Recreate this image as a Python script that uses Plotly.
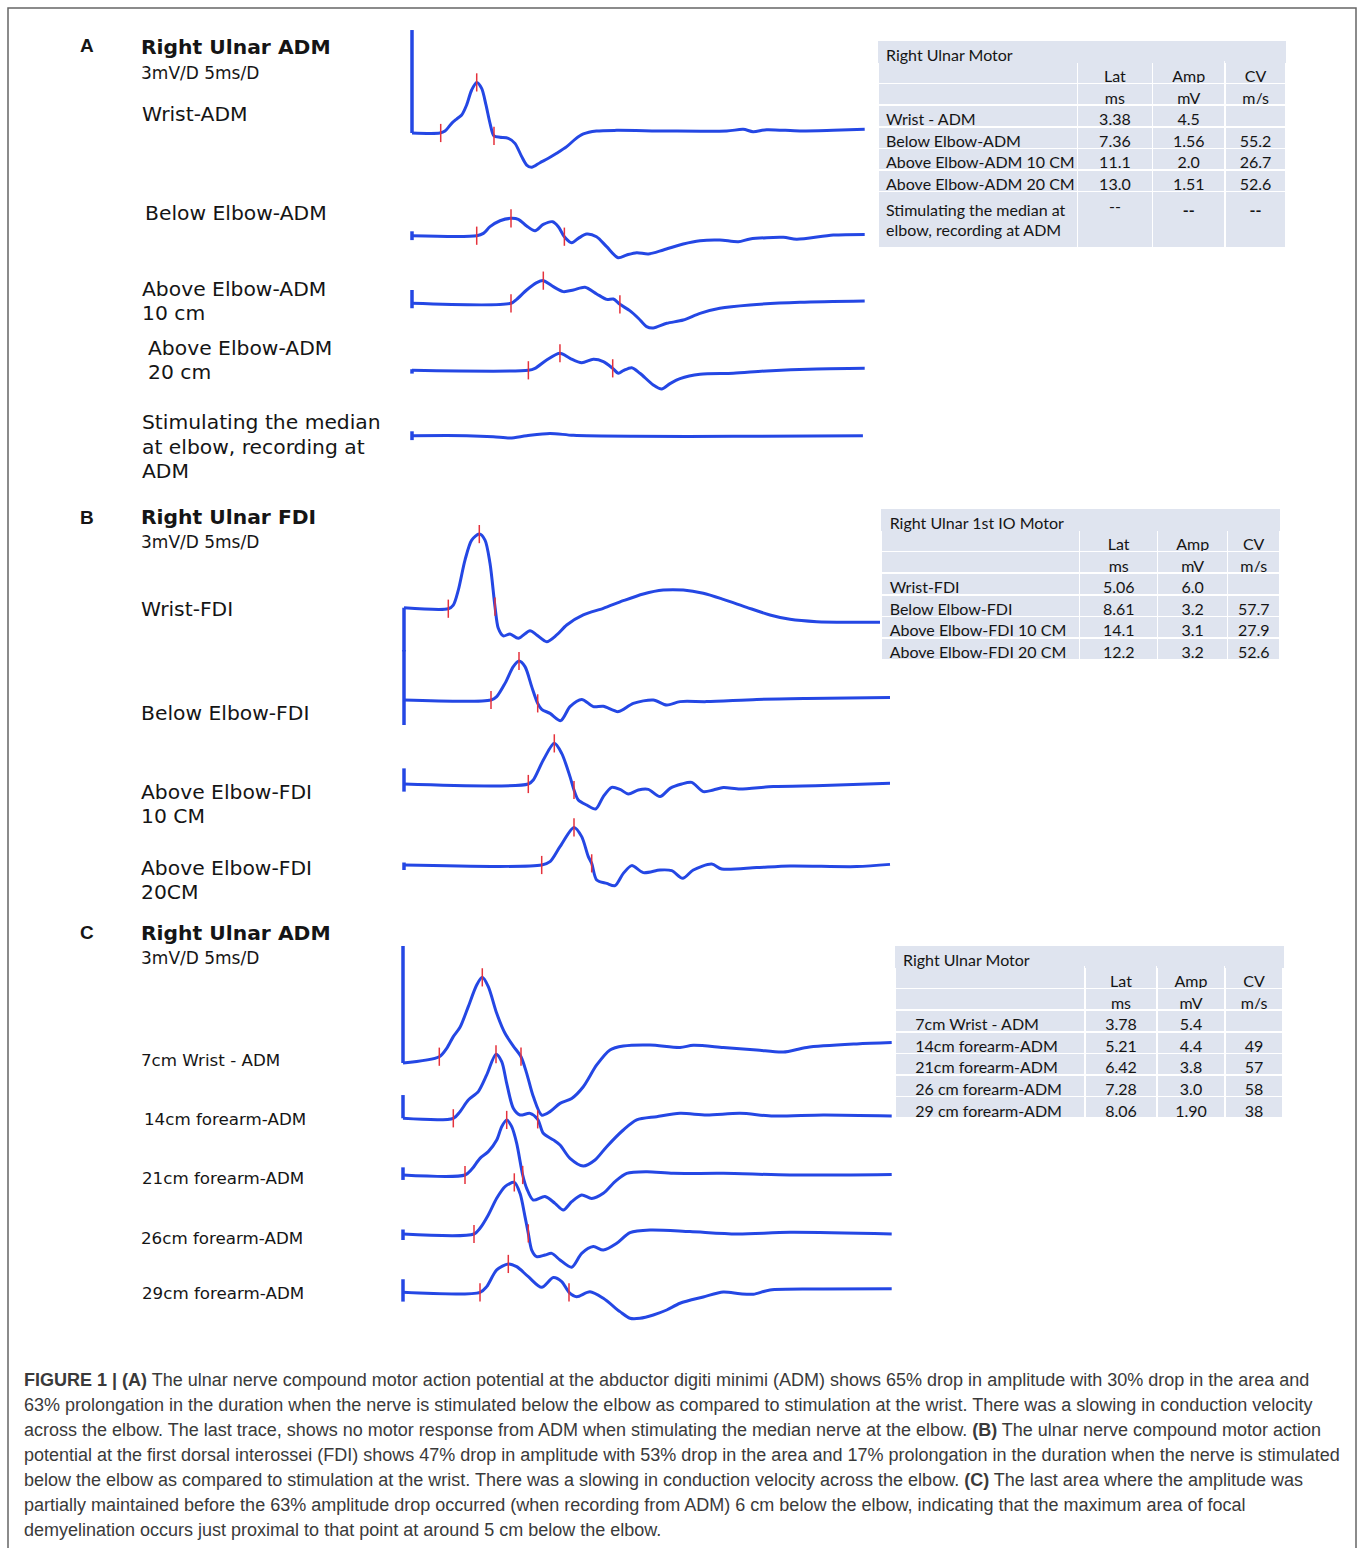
import plotly.graph_objects as go

W, H = 1360, 1548
OFF = 0  # page body margin is removed in post_script, so paper pixels == screenshot pixels


def fx(px):
    return (px - OFF) / W


def fy(py):
    return 1 - (py - OFF) / H


BLUE = "#2447e4"
RED = "#e5323c"
TXT = "#151515"
TABLE_FILL = "#dfe4ef"

# ---------------- Panel A : Right Ulnar ADM (time in ms, amplitude in mV) ----------------
a1_t = [0, 3.1, 3.67, 4.41, 4.96, 5.52, 6.07, 6.63, 7.19, 7.74, 8.22, 8.67, 9.11, 9.78, 10.7, 11.44,
        12.19, 12.74, 13.3, 14.22, 15.15, 16.07, 17.19, 18.11, 19.04, 20.5, 22.74, 28.3, 34.97, 36.8,
        37.9, 39.4, 43.1, 46.8, 50.3]
a1_mv = [0, 0, 0.18, 0.88, 1.27, 1.64, 2.55, 3.91, 4.6, 4.06, 2.55, 0.88, -0.27, -0.39, -0.48, -0.94,
         -2.15, -2.91, -3.12, -2.7, -2.3, -1.85, -1.24, -0.58, -0.09, 0.18, 0.24, 0.18, 0.18, 0.33,
         0.12, 0.3, 0.18, 0.24, 0.33]
a1_mk_t = [3.19, 7.19, 9.11]
a1_mk_mv = [0, 4.6, -0.27]

a2_t = [0, 7.19, 7.93, 8.67, 9.78, 11.0, 11.81, 12.74, 13.67, 14.59, 15.63, 16.26, 16.93, 17.74, 18.48,
        19.41, 20.5, 21.63, 22.9, 23.86, 24.97, 26.26, 27.93, 30.14, 32.0, 34.2, 36.26, 37.56, 41.26,
        42.74, 46.81, 50.3]
a2_mv = [0, 0, 0.21, 0.82, 1.36, 1.58, 1.49, 0.88, 0.45, 1.03, 1.27, 0.82, -0.09, -0.64, -0.24,
         0.15, -0.09, -1.0, -2.0, -1.75, -1.54, -1.66, -1.3, -0.75, -0.45, -0.39, -0.55, -0.3, -0.15,
         -0.33, 0.06, 0.12]
a2_mk_t = [7.19, 11.0, 16.93]
a2_mk_mv = [0, 1.58, -0.09]

a3_t = [0, 11.0, 11.63, 12.74, 13.86, 14.59, 15.7, 16.81, 17.93, 19.22, 20.52, 21.63, 22.37, 23.1,
        24.2, 25.15, 26.07, 26.8, 28.3, 30.14, 32.0, 34.2, 37.56, 43.1, 50.3]
a3_mv = [0, 0, 0.36, 1.21, 1.88, 2.06, 1.51, 1.06, 1.21, 1.45, 0.85, 0.36, 0.39, -0.09, -0.67, -1.36,
         -2.12, -2.24, -1.82, -1.52, -0.91, -0.45, -0.15, 0.09, 0.21]
a3_mk_t = [11.0, 14.59, 23.1]
a3_mk_mv = [0, 2.06, -0.09]

a4_t = [0, 12.93, 13.67, 14.96, 16.44, 17.56, 18.85, 20.15, 21.26, 22.3, 22.93, 23.48, 24.41, 25.33,
        26.81, 27.74, 28.67, 29.78, 32.0, 35.7, 39.4, 44.96, 50.3]
a4_mv = [0, 0, 0.18, 0.94, 1.55, 1.09, 0.69, 1.0, 0.79, 0.18, -0.27, -0.03, 0.24, -0.27, -1.33, -1.7,
         -1.21, -0.76, -0.36, -0.27, -0.06, 0.12, 0.18]
a4_mk_t = [12.93, 16.44, 22.3]
a4_mk_mv = [0, 1.55, 0.18]

a5_t = [0, 6.07, 9.04, 10.9, 12.74, 15.33, 17.93, 24.6, 35.7, 50.1]
a5_mv = [0, 0, -0.09, -0.21, 0, 0.21, 0.03, -0.06, -0.06, 0]
a5_mk_t = []
a5_mk_mv = []

a_art_top = [9.36, 0.4, 1.21, 0.1, 0.4]
a_art_bot = [0, -0.4, -0.45, -0.3, -0.4]

# ---------------- Panel B : Right Ulnar FDI ----------------
b1_t = [0, 4.43, 4.93, 5.43, 6.1, 6.77, 7.53, 8.1, 8.6, 9.1, 9.43, 9.93, 10.6, 11.43, 12.6, 13.27,
        14.27, 15.27, 16.27, 17.93, 19.93, 21.93, 23.93, 25.93, 27.93, 29.93, 31.93, 34.27, 36.6, 38.6,
        41.27, 44.6, 47.6]
b1_mv = [0, -0.08, 0.21, 1.41, 3.81, 5.41, 5.89, 5.41, 3.55, 0.08, -1.65, -2.26, -2.1, -2.45, -1.84,
         -2.18, -2.72, -2.18, -1.38, -0.58, -0.05, 0.56, 1.1, 1.41, 1.41, 1.15, 0.67, 0.03, -0.58,
         -0.93, -1.12, -1.17, -1.17]
b1_mk_t = [4.43, 7.53, 9.1]
b1_mk_mv = [-0.08, 5.89, 0.08]

b2_t = [0, 8.7, 9.27, 10.1, 10.93, 11.5, 12.1, 12.77, 13.37, 13.77, 14.6, 15.67, 16.6, 17.77, 18.93,
        19.93, 21.43, 22.93, 24.93, 26.27, 27.6, 30.27, 35.27, 40.27, 48.6]
b2_mv = [0, 0, 0.27, 1.33, 2.67, 3.12, 2.67, 1.07, -0.27, -0.75, -1.07, -1.65, -0.53, 0.05, -0.53,
         -0.5, -0.93, -0.27, 0, -0.4, -0.13, -0.13, 0.05, 0.13, 0.21]
b2_mk_t = [8.7, 11.5, 13.37]
b2_mk_mv = [0, 3.12, -0.27]

b3_t = [0, 12.43, 12.93, 13.93, 15.03, 15.77, 16.6, 17.0, 17.43, 18.27, 19.17, 19.93, 20.77, 21.6,
        22.43, 23.43, 24.43, 25.6, 26.6, 27.77, 28.77, 29.93, 30.93, 31.93, 33.6, 36.93, 41.93, 48.6]
b3_mv = [0, 0, 0.32, 1.92, 3.25, 2.45, 0.59, -0.48, -1.28, -1.68, -2.0, -1.01, -0.27, -0.43, -0.8,
         -0.48, -0.43, -1.01, -0.35, 0, 0.13, -0.61, -0.48, -0.29, -0.4, -0.21, -0.13, 0.05]
b3_mk_t = [12.43, 15.03, 17.0]
b3_mk_mv = [0, 3.25, -0.48]

b4_t = [0, 13.77, 14.6, 15.6, 17.0, 17.77, 18.43, 18.77, 19.27, 20.27, 21.1, 21.93, 22.77, 23.93,
        25.6, 26.77, 27.87, 28.93, 30.77, 31.77, 35.27, 38.6, 45.27, 48.6]
b4_mv = [0, 0, 0.27, 1.47, 3.01, 2.27, 0.67, 0.13, -1.2, -1.47, -1.65, -0.67, -0.05, -0.61, -0.4,
         -0.45, -1.07, -0.4, 0.08, -0.32, -0.21, -0.08, -0.13, 0.05]
b4_mk_t = [13.77, 17.0, 18.77]
b4_mk_mv = [0, 3.01, 0.13]

b_art_top = [0, 4.0, 1.25, 0.2]
b_art_bot = [-3.5, -2.0, -0.61, -0.4]

# ---------------- Panel C : Right Ulnar ADM (inching) ----------------
c1_t = [0, 3.63, 4.37, 5.03, 5.7, 6.53, 7.37, 7.93, 8.53, 9.37, 10.2, 11.03, 11.8, 12.37, 13.03,
        13.87, 14.7, 15.7, 16.87, 18.03, 19.37, 20.7, 22.03, 24.7, 27.7, 29.03, 32.03, 35.37, 38.03,
        40.37, 45.37, 48.87]
c1_mv = [0, 0.42, 0.98, 1.76, 2.38, 3.76, 5.2, 5.71, 5.09, 3.31, 1.98, 1.13, 0.42, -0.69, -2.24,
         -3.47, -3.24, -2.69, -2.36, -1.58, -0.13, 0.87, 1.13, 1.2, 1.04, 1.18, 1.04, 0.87, 0.73,
         1.04, 1.27, 1.36]
c1_mk_t = [3.63, 7.93, 11.8]
c1_mk_mv = [0.42, 5.71, 0.42]

c2_t = [0, 5.03, 5.7, 6.53, 7.53, 8.37, 9.3, 9.87, 10.37, 11.03, 11.7, 12.7, 13.47, 14.03, 15.03,
        15.7, 16.7, 18.03, 19.2, 20.37, 22.03, 23.37, 25.37, 27.7, 30.37, 33.7, 37.03, 42.03, 48.87]
c2_mv = [0, 0, 0.44, 1.22, 1.78, 2.89, 4.27, 3.78, 2.33, 0.67, 0.22, 0.33, -0.07, -1.0, -1.44, -1.78,
         -2.67, -3.18, -2.78, -1.89, -0.78, -0.11, 0.11, 0.33, 0.22, 0.33, 0.15, 0.22, 0.15]
c2_mk_t = [5.03, 9.3, 13.47]
c2_mk_mv = [0, 4.27, -0.07]

c3_t = [0, 6.2, 6.87, 7.7, 8.53, 9.37, 9.87, 10.37, 10.87, 11.37, 11.97, 12.37, 13.03, 14.2, 15.2,
        16.03, 16.87, 17.87, 18.87, 20.03, 21.2, 22.37, 24.37, 27.03, 32.03, 38.7, 48.87]
c3_mv = [0, 0, 0.38, 1.11, 1.56, 2.33, 3.22, 3.67, 3.22, 2.11, 0, -0.89, -1.67, -1.44, -1.89, -2.33,
         -1.78, -1.33, -1.56, -1.22, -0.44, 0.11, 0.22, 0.11, 0.11, 0, 0.04]
c3_mk_t = [6.2, 10.37, 11.97]
c3_mk_mv = [0, 3.67, 0]

c4_t = [0, 7.1, 7.7, 8.53, 9.37, 10.2, 11.13, 11.7, 12.2, 12.53, 12.87, 13.37, 14.2, 14.87, 15.7,
        16.87, 17.87, 19.03, 20.03, 21.37, 22.7, 24.7, 28.7, 33.37, 38.7, 48.87]
c4_mv = [0, 0, 0.38, 1.27, 2.38, 3.16, 3.44, 2.71, 1.16, 0.04, -1.07, -1.51, -1.4, -1.29, -1.73,
         -2.22, -1.29, -0.84, -1.07, -0.62, 0.09, 0.27, 0.16, 0, 0.11, 0]
c4_mk_t = [7.1, 11.13, 12.53]
c4_mk_mv = [0, 3.44, 0.04]

c5_t = [0, 7.7, 8.37, 9.37, 10.53, 11.37, 12.53, 13.87, 15.03, 15.87, 16.6, 17.37, 18.7, 20.03, 21.7,
        22.7, 23.7, 25.03, 26.37, 27.7, 30.03, 32.03, 33.7, 35.03, 36.7, 42.03, 48.87]
c5_mv = [0, 0, 0.38, 1.49, 1.89, 1.71, 1.04, 0.33, 0.98, 0.71, 0, -0.29, 0.04, -0.4, -1.29, -1.73,
         -1.73, -1.51, -1.18, -0.73, -0.31, 0.02, -0.1, -0.13, 0.16, 0.22, 0.24]
c5_mk_t = [7.7, 10.53, 16.6]
c5_mk_mv = [0, 1.89, 0]

c_art_top = [7.8, 1.55, 0.51, 0.3, 0.87]
c_art_bot = [0, 0, -0.33, -0.4, -0.62]

# ---------------- Tables ----------------
tabA_title = "Right Ulnar Motor"
tabA_rows = ["Wrist - ADM", "Below Elbow-ADM", "Above Elbow-ADM 10 CM", "Above Elbow-ADM 20 CM",
             "Stimulating the median at<br>elbow, recording at ADM"]
tabA_lat = ["3.38", "7.36", "11.1", "13.0", "--"]
tabA_amp = ["4.5", "1.56", "2.0", "1.51", "--"]
tabA_cv = ["", "55.2", "26.7", "52.6", "--"]

tabB_title = "Right Ulnar 1st IO Motor"
tabB_rows = ["Wrist-FDI", "Below Elbow-FDI", "Above Elbow-FDI 10 CM", "Above Elbow-FDI 20 CM"]
tabB_lat = ["5.06", "8.61", "14.1", "12.2"]
tabB_amp = ["6.0", "3.2", "3.1", "3.2"]
tabB_cv = ["", "57.7", "27.9", "52.6"]

tabC_title = "Right Ulnar Motor"
tabC_rows = ["7cm Wrist - ADM", "14cm forearm-ADM", "21cm forearm-ADM", "26 cm forearm-ADM",
             "29 cm forearm-ADM"]
tabC_lat = ["3.78", "5.21", "6.42", "7.28", "8.06"]
tabC_amp = ["5.4", "4.4", "3.8", "3.0", "1.90"]
tabC_cv = ["", "49", "57", "58", "38"]

col_head1 = ["Lat", "Amp", "CV"]
col_head2 = ["ms", "mV", "m/s"]

# ---------------- Text labels ----------------
panel_letters = ["A", "B", "C"]
panel_titles = ["Right Ulnar ADM", "Right Ulnar FDI", "Right Ulnar ADM"]
scale_text = "3mV/D 5ms/D"
a_labels = ["Wrist-ADM", "Below Elbow-ADM", "Above Elbow-ADM", "10 cm", "Above Elbow-ADM", "20 cm",
            "Stimulating the median", "at elbow, recording at", "ADM"]
b_labels = ["Wrist-FDI", "Below Elbow-FDI", "Above Elbow-FDI", "10 CM", "Above Elbow-FDI", "20CM"]
c_labels = ["7cm Wrist - ADM", "14cm forearm-ADM", "21cm forearm-ADM", "26cm forearm-ADM",
            "29cm forearm-ADM"]

caption_lines = [
    "<b>FIGURE 1 | (A)</b> The ulnar nerve compound motor action potential at the abductor digiti minimi (ADM) shows 65% drop in amplitude with 30% drop in the area and",
    "63% prolongation in the duration when the nerve is stimulated below the elbow as compared to stimulation at the wrist. There was a slowing in conduction velocity",
    "across the elbow. The last trace, shows no motor response from ADM when stimulating the median nerve at the elbow. <b>(B)</b> The ulnar nerve compound motor action",
    "potential at the first dorsal interossei (FDI) shows 47% drop in amplitude with 53% drop in the area and 17% prolongation in the duration when the nerve is stimulated",
    "below the elbow as compared to stimulation at the wrist. There was a slowing in conduction velocity across the elbow. <b>(C)</b> The last area where the amplitude was",
    "partially maintained before the 63% amplitude drop occurred (when recording from ADM) 6 cm below the elbow, indicating that the maximum area of focal",
    "demyelination occurs just proximal to that point at around 5 cm below the elbow.",
]

# ================= Figure construction =================
fig = go.Figure()
layout = dict(width=W, height=H, margin=dict(l=0, r=0, t=0, b=0), paper_bgcolor="white",
              plot_bgcolor="rgba(0,0,0,0)", showlegend=False)

# panel geometry (pixels): x origin, px/ms, x domain, baselines, px/mV, y domain
panels = [
    dict(idx="", x0=412, sx=9.0, xdom=(395, 875), bases=[133, 235.7, 303.3, 370.3, 435.7], sy=11.0,
         ydom=(20, 455),
         traces=[(a1_t, a1_mv, a1_mk_t, a1_mk_mv), (a2_t, a2_mv, a2_mk_t, a2_mk_mv),
                 (a3_t, a3_mv, a3_mk_t, a3_mk_mv), (a4_t, a4_mv, a4_mk_t, a4_mk_mv),
                 (a5_t, a5_mv, a5_mk_t, a5_mk_mv)],
         art=(a_art_top, a_art_bot)),
    dict(idx="2", x0=404, sx=10.0, xdom=(390, 895), bases=[607.7, 700, 784, 865], sy=12.5,
         ydom=(495, 910),
         traces=[(b1_t, b1_mv, b1_mk_t, b1_mk_mv), (b2_t, b2_mv, b2_mk_t, b2_mk_mv),
                 (b3_t, b3_mv, b3_mk_t, b3_mk_mv), (b4_t, b4_mv, b4_mk_t, b4_mk_mv)],
         art=(b_art_top, b_art_bot)),
    dict(idx="3", x0=403, sx=10.0, xdom=(390, 900), bases=[1063, 1118.3, 1175, 1234, 1292.3], sy=15.0,
         ydom=(928, 1340),
         traces=[(c1_t, c1_mv, c1_mk_t, c1_mk_mv), (c2_t, c2_mv, c2_mk_t, c2_mk_mv),
                 (c3_t, c3_mv, c3_mk_t, c3_mk_mv), (c4_t, c4_mv, c4_mk_t, c4_mk_mv),
                 (c5_t, c5_mv, c5_mk_t, c5_mk_mv)],
         art=(c_art_top, c_art_bot)),
]

for p in panels:
    i = p["idx"]
    base0 = p["bases"][0]
    layout["xaxis" + i] = dict(domain=[fx(p["xdom"][0]), fx(p["xdom"][1])],
                               range=[(p["xdom"][0] - p["x0"]) / p["sx"], (p["xdom"][1] - p["x0"]) / p["sx"]],
                               visible=False, anchor="y" + i, fixedrange=True)
    layout["yaxis" + i] = dict(domain=[fy(p["ydom"][1]), fy(p["ydom"][0])],
                               range=[(base0 - p["ydom"][1]) / p["sy"], (base0 - p["ydom"][0]) / p["sy"]],
                               visible=False, anchor="x" + i, fixedrange=True)
    xa, ya = "x" + i, "y" + i
    tops, bots = p["art"]
    for k, (t, mv, mt, mm) in enumerate(p["traces"]):
        off = (base0 - p["bases"][k]) / p["sy"]
        # stimulus artefact
        fig.add_trace(go.Scatter(x=[0, 0], y=[tops[k] + off, bots[k] + off], mode="lines",
                                 line=dict(color=BLUE, width=3.5), xaxis=xa, yaxis=ya, hoverinfo="skip"))
        fig.add_trace(go.Scatter(x=t, y=[v + off for v in mv], mode="lines",
                                 line=dict(color=BLUE, width=3, shape="spline", smoothing=0.8),
                                 xaxis=xa, yaxis=ya, hoverinfo="skip"))
        if mt:
            fig.add_trace(go.Scatter(x=mt, y=[v + off for v in mm], mode="markers",
                                     marker=dict(symbol="line-ns", size=13, color=RED,
                                                 line=dict(color=RED, width=1.5)),
                                     xaxis=xa, yaxis=ya, cliponaxis=False, hoverinfo="skip"))


def nb(s):
    return s.replace(" ", "\u00a0")


def add_table(title, rows, lat, amp, cv, x0, x1, ytop, ybot, colw, indent, bold_dash):
    lab = ["", ""] + [indent + nb(r) for r in rows]
    c1 = [col_head1[0], col_head2[0]] + lat
    c2 = [col_head1[1], col_head2[1]] + [("<b>--</b>" if (bold_dash and v == "--") else v) for v in amp]
    c3 = [col_head1[2], col_head2[2]] + [("<b>--</b>" if (bold_dash and v == "--") else v) for v in cv]
    fnt = dict(family="Lato, Carlito, sans-serif", size=16, color=TXT)
    fig.add_trace(go.Table(
        domain=dict(x=[fx(x0), fx(x1)], y=[fy(ybot), fy(ytop)]),
        columnwidth=colw,
        header=dict(values=[nb(title), "", "", ""], fill_color=TABLE_FILL, align="left",
                    line=dict(color=TABLE_FILL, width=1), font=fnt, height=21),
        cells=dict(values=[lab, c1, c2, c3], fill_color=TABLE_FILL,
                   align=["left", "center", "center", "center"],
                   line=dict(color="white", width=1.5), font=fnt, height=21.6),
    ))


add_table(tabA_title, tabA_rows, tabA_lat, tabA_amp, tabA_cv, 878, 1287, 41, 300,
          [200, 75, 73, 61], "", True)
add_table(tabB_title, tabB_rows, tabB_lat, tabB_amp, tabB_cv, 881.7, 1280, 509, 720,
          [198, 78, 70, 52], "", False)
add_table(tabC_title, tabC_rows, tabC_lat, tabC_amp, tabC_cv, 895, 1283, 946, 1180,
          [190, 72, 68, 58], "\u00a0\u00a0\u00a0", False)

ann = []


def txt(s, x, y, size, bold=False, family="DejaVu Sans, Verdana, sans-serif", color=TXT):
    ann.append(dict(text=("<b>%s</b>" % s) if bold else s, x=fx(x), y=fy(y), xref="paper", yref="paper",
                    xanchor="left", yanchor="middle", showarrow=False,
                    font=dict(family=family, size=size, color=color)))


# panel letters and titles
for letter, title, ly, ty, sy_ in zip(panel_letters, panel_titles, [45, 517, 932], [47, 517, 933],
                                      [73, 542, 958]):
    txt(letter, 78, ly, 19, bold=True, family="Liberation Sans, Arial, sans-serif")
    txt(title, 139, ty, 20.3, bold=True)
    txt(scale_text, 139, sy_, 17)

a_pos = [(140, 114), (143, 213), (140, 289), (140, 313), (146, 348), (146, 372), (140, 422), (140, 447),
         (140, 471)]
for s, (x, y) in zip(a_labels, a_pos):
    txt(s, x, y, 20.3)
b_pos = [(139, 609), (139, 713), (139, 792), (139, 816), (139, 868), (139, 892)]
for s, (x, y) in zip(b_labels, b_pos):
    txt(s, x, y, 20.3)
c_pos = [(139, 1060), (142, 1119), (140, 1178), (139, 1238), (140, 1293)]
for s, (x, y) in zip(c_labels, c_pos):
    txt(s, x, y, 16.7)

for k, line in enumerate(caption_lines):
    txt(line, 22, 1380 + 25 * k, 18, family="Liberation Sans, Arial, sans-serif", color="#3a3a3a")

layout["annotations"] = ann
layout["shapes"] = [dict(type="rect", xref="paper", yref="paper", x0=fx(8), x1=fx(1356), y0=fy(8),
                         y1=fy(1600), line=dict(color="#666666", width=1.5), fillcolor="rgba(0,0,0,0)",
                         layer="below")]

fig.update_layout(**layout)
fig.write_html("out.html", config={"displayModeBar": False},
               post_script="document.body.style.margin='0';document.body.style.overflow='hidden';")
